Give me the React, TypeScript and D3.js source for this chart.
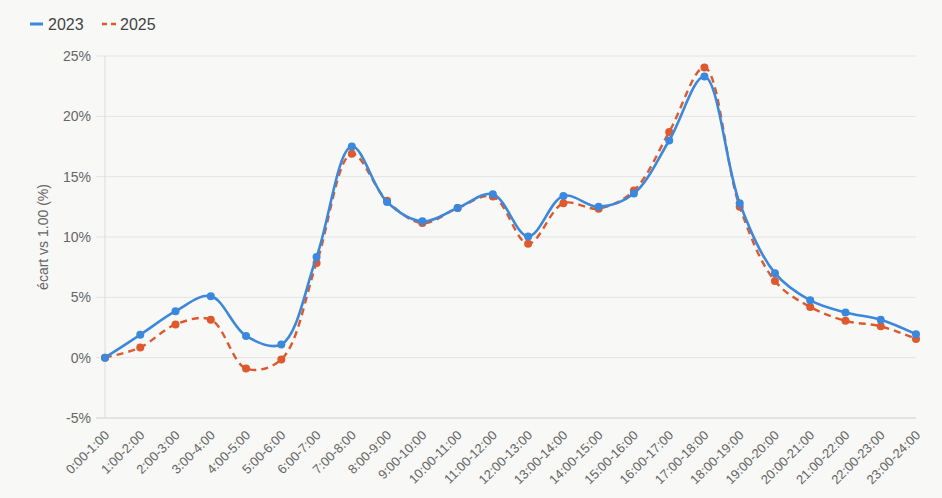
import * as d3 from "d3";

const hours = [
  "0:00-1:00", "1:00-2:00", "2:00-3:00", "3:00-4:00", "4:00-5:00", "5:00-6:00",
  "6:00-7:00", "7:00-8:00", "8:00-9:00", "9:00-10:00", "10:00-11:00", "11:00-12:00",
  "12:00-13:00", "13:00-14:00", "14:00-15:00", "15:00-16:00", "16:00-17:00", "17:00-18:00",
  "18:00-19:00", "19:00-20:00", "20:00-21:00", "21:00-22:00", "22:00-23:00", "23:00-24:00",
];

const values2023 = [
  0, 1.9, 3.85, 5.1, 1.8, 1.1, 8.35, 17.5, 12.9, 11.3, 12.4, 13.55,
  10.05, 13.4, 12.5, 13.6, 18.0, 23.3, 12.8, 7.0, 4.75, 3.75, 3.15, 1.95,
];

const values2025 = [
  0, 0.85, 2.75, 3.15, -0.9, -0.15, 7.85, 16.9, 13.0, 11.15, 12.4, 13.35,
  9.45, 12.8, 12.35, 13.85, 18.7, 24.05, 12.5, 6.35, 4.2, 3.05, 2.6, 1.55,
];

const yTicks = [-5, 0, 5, 10, 15, 20, 25];

const W = 942;
const H = 498;
const left = 105;
const right = 916;
const top = 56;
const bottom = 418;

const BLUE = "#3b88dc";
const ORANGE = "#de5a2e";
const FONT = "'Liberation Sans', Arial, sans-serif";

export default function App() {
  const x = d3.scalePoint<string>().domain(hours).range([left, right]);
  const y = d3.scaleLinear().domain([-5, 25]).range([bottom, top]);

  const line = d3
    .line<number>()
    .x((_, i) => x(hours[i])!)
    .y((d) => y(d))
    .curve(d3.curveCatmullRom.alpha(0.5));

  const series = [
    { name: "2023", values: values2023, color: BLUE, dash: undefined, width: 2.6 },
    { name: "2025", values: values2025, color: ORANGE, dash: "7,5", width: 2.4 },
  ];

  return (
    <svg
      width={W}
      height={H}
      style={{ position: "absolute", left: 0, top: 0, background: "#f8f8f7" }}
    >
      <rect width={W} height={H} fill="#f8f8f7" />

      {/* legend */}
      <g fontFamily={FONT} fontSize={16} fill="#444">
        <line x1={30} x2={43} y1={24} y2={24} stroke={BLUE} strokeWidth={3} />
        <text x={48} y={30}>2023</text>
        <line x1={102} x2={116} y1={24} y2={24} stroke={ORANGE} strokeWidth={2.4} strokeDasharray="5,4" />
        <text x={120} y={30}>2025</text>
      </g>

      {/* grid + y ticks */}
      <g fontFamily={FONT} fontSize={14} fill="#666">
        {yTicks.map((t) => (
          <g key={t}>
            <line
              x1={96}
              x2={right}
              y1={y(t)}
              y2={y(t)}
              stroke={t === -5 ? "#cfcfcf" : "#e4e4e4"}
              strokeWidth={1}
            />
            <text x={91} y={y(t) + 5} textAnchor="end">
              {t}%
            </text>
          </g>
        ))}
      </g>
      <line x1={left} x2={left} y1={top} y2={bottom} stroke="#dcdcdc" />

      {/* y axis title */}
      <text
        transform={`translate(48,${(top + bottom) / 2})`+" rotate(-90)"}
        textAnchor="middle"
        fontFamily={FONT}
        fontSize={14}
        fill="#666"
      >
        écart vs 1.00 (%)
      </text>

      {/* x labels */}
      <g fontFamily={FONT} fontSize={13} fill="#666">
        {hours.map((h) => (
          <text
            key={h}
            transform={`translate(${x(h)! + 5},${bottom + 18}) rotate(-45)`}
            textAnchor="end"
          >
            {h}
          </text>
        ))}
      </g>

      {/* series, 2025 under 2023 */}
      {[series[1], series[0]].map((s) => (
        <g key={s.name}>
          <path
            d={line(s.values) ?? ""}
            fill="none"
            stroke={s.color}
            strokeWidth={s.width}
            strokeDasharray={s.dash}
          />
          {s.values.map((v, i) => (
            <circle key={i} cx={x(hours[i])} cy={y(v)} r={4} fill={s.color} />
          ))}
        </g>
      ))}
    </svg>
  );
}
